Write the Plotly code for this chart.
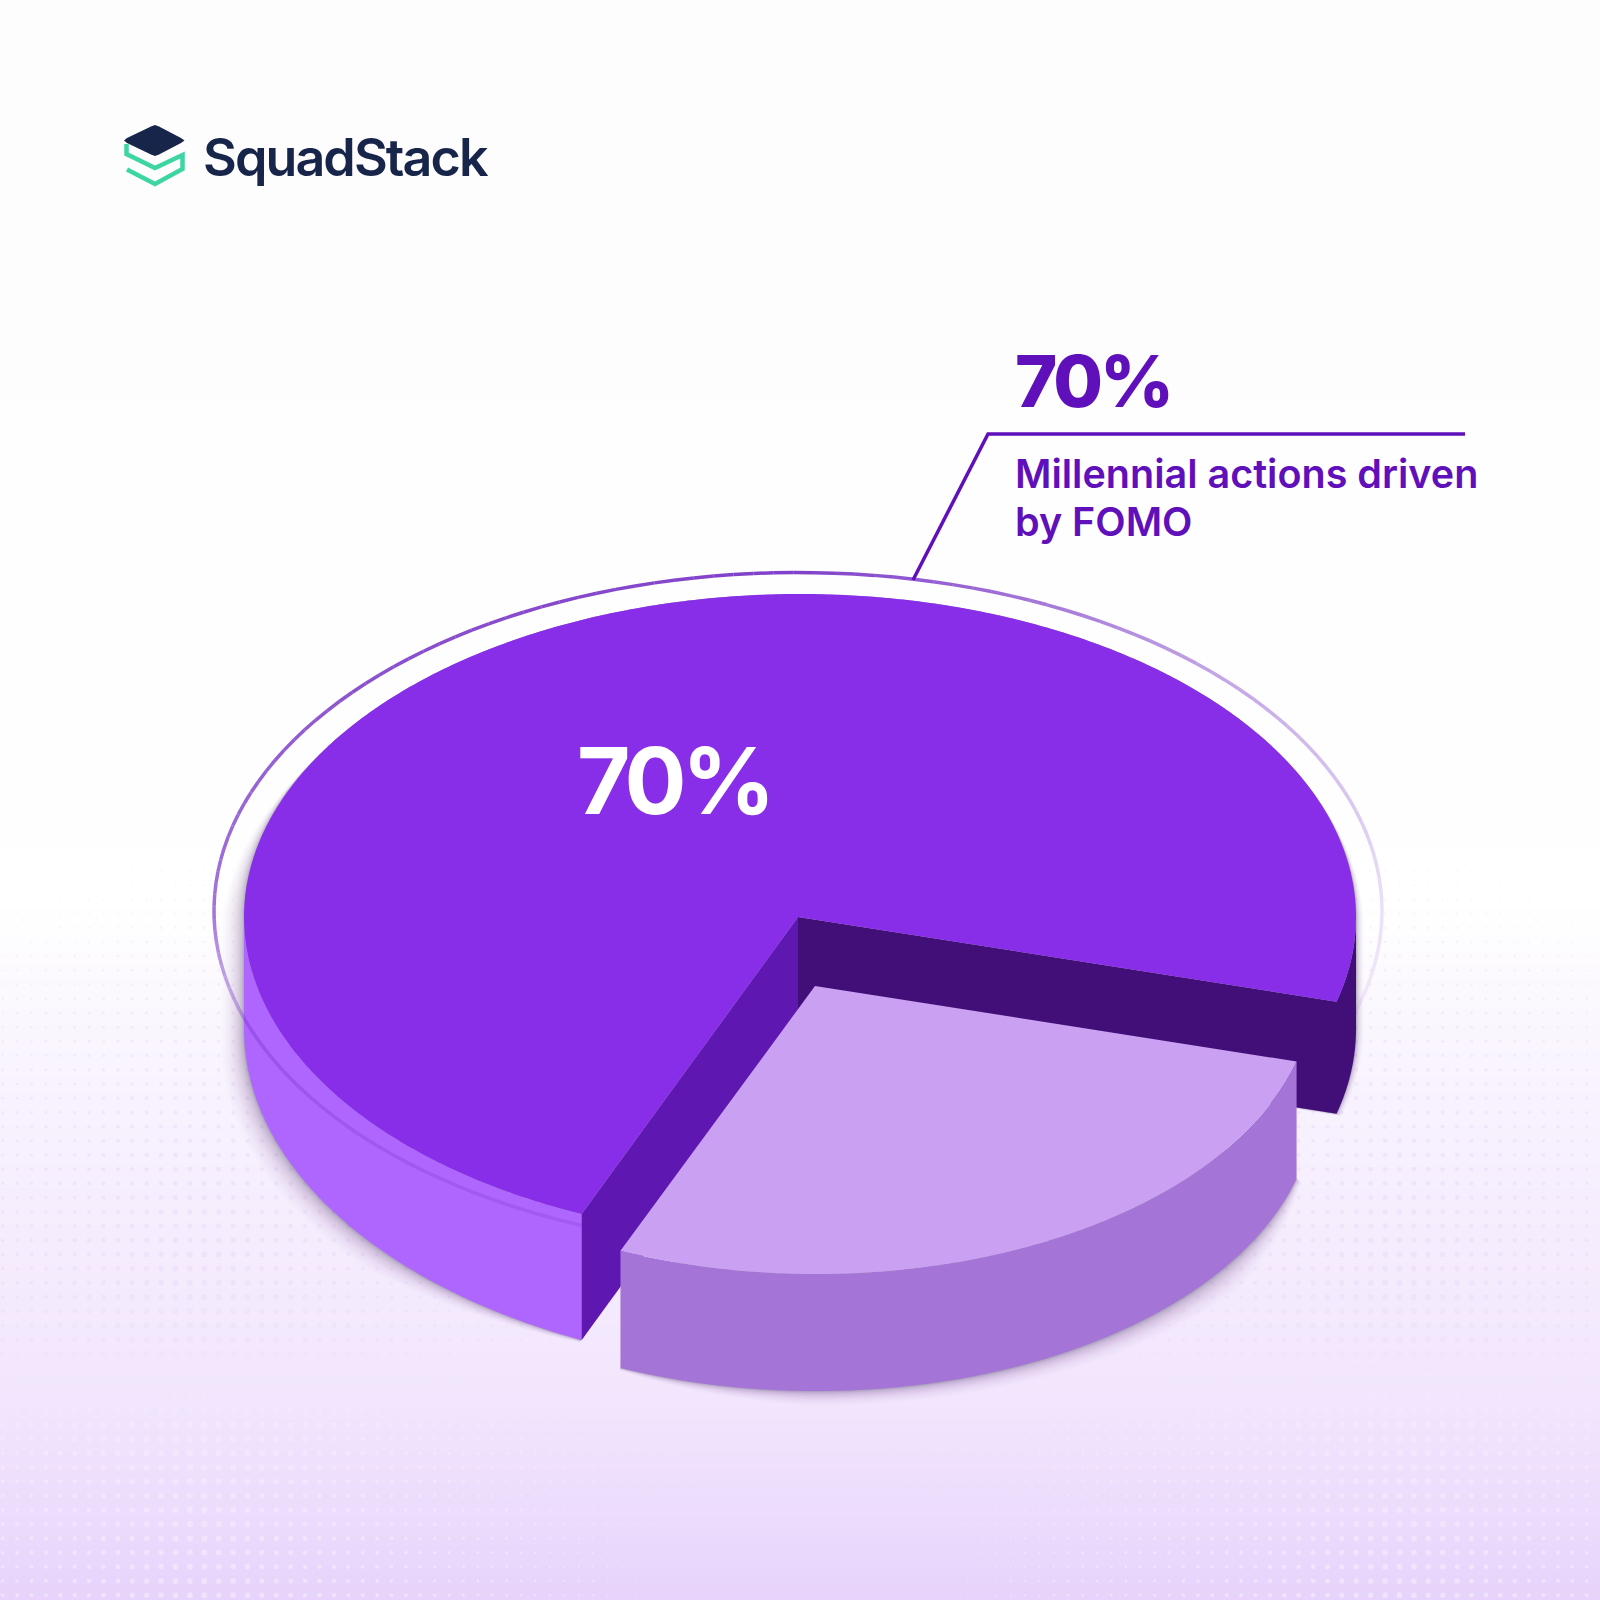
import numpy as np
import plotly.graph_objects as go

# ---- chart content ----
slice_names = ["Millennial actions driven by FOMO", "Other actions"]
slice_shares = [72.8, 27.2]          # shares as drawn in the picture
slice_label = "70%"
callout_lines = ["Millennial actions driven", "by FOMO"]
brand_name = "SquadStack"

# ---- geometry / styling ----
START = 15.2
CUT = START + 360 * slice_shares[1] / 100
MAIN = dict(cx=800, cy=917, rx=556, ry=323, ax=798, ay=917)
LIGHT = dict(cx=816, cy=986, rx=498, ry=288, depth=117, ax=815)
DEPTH_R, DEPTH_L = 112, 126
C_TOP, C_WALL, C_DARK_L, C_DARK_R = "#892EE8", "#AE66FF", "#5F17B2", "#420F78"
C_LTOP, C_LWALL = "#C9A0F2", "#A475D6"
C_TEXT = "#5F10BB"
C_NAVY, C_GREEN = "#17254A", "#3DD6A3"


def arc(e, a0, a1, n=120, dy=0.0):
    t = np.radians(np.linspace(a0, a1, n))
    return e["cx"] + e["rx"] * np.cos(t), e["cy"] + dy + e["ry"] * np.sin(t)


def depth_main(a):
    a = np.asarray(a, float)
    d = DEPTH_R + (DEPTH_L - DEPTH_R) * np.clip((180 - a) / (180 - CUT), 0, 1)
    return np.where(a < CUT - 1, DEPTH_R, d)


def main_bottom(a0, a1, n=120):
    a = np.linspace(a0, a1, n)
    t = np.radians(a)
    return MAIN["cx"] + MAIN["rx"] * np.cos(t), MAIN["cy"] + MAIN["ry"] * np.sin(t) + depth_main(a)


fig = go.Figure()


def poly(x, y, color):
    fig.add_trace(go.Scatter(x=list(x), y=list(y), mode="lines", fill="toself", fillcolor=color,
                             line=dict(width=0, simplify=False), hoverinfo="skip", showlegend=False))


# background gradient
grad_y = [0, 800, 900, 1000, 1100, 1300, 1400, 1500, 1600]
grad_c = ["#FEFDFE", "#FEFEFF", "#FFFFFF", "#FBF8FE", "#F8F2FE", "#F4EAFD", "#F2E5FD", "#EDDDFD", "#E7D3FB"]
fig.add_trace(go.Heatmap(x=[0, 1600], y=grad_y, z=[[v, v] for v in grad_y], zsmooth="best", showscale=False,
                         colorscale=[[v / 1600, c] for v, c in zip(grad_y, grad_c)], zmin=0, zmax=1600,
                         hoverinfo="skip"))

# dotted background pattern
gx, gy = np.meshgrid(np.arange(2.7, 1600, 14.4), np.arange(871, 1600, 14.2))
gx, gy = gx.ravel(), gy.ravel()
f = np.interp(np.abs(gx - 800), [0, 100, 400, 600, 800], [0.12, 0.15, 0.6, 1.0, 0.6])
g = np.interp(gy, [870, 1100, 1400, 1600], [0.28, 0.6, 1.0, 0.8])
alpha = np.interp(gy, [870, 1000, 1150, 1600], [0.35, 0.75, 1.0, 1.0])
dr = np.interp(gy, [1300, 1420], [236, 243])
dg = np.interp(gy, [1300, 1420], [224, 234])
db = np.interp(gy, [1300, 1420], [250, 252])
fig.add_trace(go.Scatter(x=gx, y=gy, mode="markers", hoverinfo="skip", showlegend=False,
                         marker=dict(size=7.2 * f * g,
                                     color=[f"rgba({r:.0f},{c:.0f},{b:.0f},{a:.2f})"
                                            for r, c, b, a in zip(dr, dg, db, alpha)],
                                     line=dict(width=0))))


# soft drop shadows
def main_shadow(e):
    a = np.concatenate([np.linspace(CUT, 180, 80), np.linspace(180.01, 359.99, 120), np.linspace(360, 360 + START, 20)])
    g = e * np.interp(a, [CUT, CUT + 25, 180, 210, 335, 360, 360 + START], [0.2, 1, 0.85, 0, 0, 0.3, 0.2])
    t = np.radians(a)
    lower = (a <= 180) | (a >= 360)
    dep = np.where(a <= 180, depth_main(a), DEPTH_R)
    x = MAIN["cx"] + (MAIN["rx"] + g) * np.cos(t)
    y = MAIN["cy"] + MAIN["ry"] * np.sin(t) + np.where(lower, dep + 0.55 * g, 0)
    return list(x) + [MAIN["ax"]], list(y) + [MAIN["ay"] + DEPTH_R + 0.55 * e * 0.2]


def light_shadow(e):
    a = np.linspace(START, CUT, 120)
    g = e * (0.18 + 0.82 * np.clip((a - START) / 22, 0, 1) * np.clip((CUT - a) / 22, 0, 1))
    t = np.radians(a)
    x = LIGHT["cx"] + (LIGHT["rx"] + g) * np.cos(t)
    y = LIGHT["cy"] + LIGHT["ry"] * np.sin(t) + LIGHT["depth"] + 0.55 * g
    return [LIGHT["ax"]] + list(x), [LIGHT["cy"]] + list(y)


layers = 27 * np.linspace(1, 0.12, 22) ** 2
for i, e in enumerate(layers):
    shade = f"rgba(45,30,80,{0.008 + 0.022 * i / (len(layers) - 1):.4f})"
    poly(*main_shadow(e), shade)
    poly(*light_shadow(e), shade)

# main slice: outer wall and the two cut faces
tx, ty = arc(MAIN, CUT, 180)
bx, by = main_bottom(180, CUT)
poly(list(tx) + list(bx), list(ty) + list(by), C_WALL)

tx, ty = arc(MAIN, START, 0, 30)
bx, by = main_bottom(0, START, 30)
poly([MAIN["ax"]] + list(tx) + list(bx) + [MAIN["ax"]],
     [MAIN["ay"]] + list(ty) + list(by) + [MAIN["ay"] + DEPTH_R], C_DARK_R)

cx0, cy0 = arc(MAIN, CUT, CUT, 1)
poly([MAIN["ax"], cx0[0], cx0[0], MAIN["ax"]],
     [MAIN["ay"], cy0[0], cy0[0] + DEPTH_L, MAIN["ay"] + DEPTH_L], C_DARK_L)

# thin ring with fading opacity
RING = dict(cx=798, cy=911, rx=584, ry=338.5)
ring_start = float(np.degrees(np.arccos((cx0[0] - RING["cx"]) / RING["rx"])))
edges = np.linspace(ring_start, 360 + 26, 140)
stops = [ring_start, 140, 165, 180, 225, 270, 315, 345, 360, 375, 386]
ops = [0.16, 0.20, 0.32, 0.62, 0.78, 0.85, 0.40, 0.22, 0.13, 0.07, 0.0]
for a0, a1 in zip(edges[:-1], edges[1:]):
    xs, ys = arc(RING, a0, a1, 4)
    op = float(np.interp((a0 + a1) / 2, stops, ops))
    fig.add_trace(go.Scatter(x=xs, y=ys, mode="lines", hoverinfo="skip", showlegend=False,
                             line=dict(color=f"rgba(106,31,192,{op:.3f})", width=3.5)))

# main slice: top
tx, ty = arc(MAIN, CUT, CUT + 360 * slice_shares[0] / 100, 600)
poly([MAIN["ax"]] + list(tx), [MAIN["ay"]] + list(ty), C_TOP)

# detached slice
tx, ty = arc(LIGHT, START, CUT, 300)
poly(list(tx) + list(tx[::-1]), list(ty) + list(ty[::-1] + LIGHT["depth"]), C_LWALL)
poly([LIGHT["ax"]] + list(tx), [LIGHT["cy"]] + list(ty), C_LTOP)

# leader line
fig.add_trace(go.Scatter(x=[913, 988, 1465], y=[580, 434, 434], mode="lines", hoverinfo="skip", showlegend=False,
                         line=dict(color=C_TEXT, width=3.5)))

# logo mark
poly([124, 127, 151, 155, 159, 181, 184.5, 181, 159, 155, 151, 127],
     [140.5, 138, 126.5, 125, 126.5, 138, 140.5, 143, 154.5, 156, 154.5, 143], C_NAVY)
fig.add_trace(go.Scatter(x=[126.5, 126.5, 155, 182.5, 182.5, 155, 127],
                         y=[144, 154, 168, 155, 169, 184, 169.5], mode="lines", hoverinfo="skip", showlegend=False,
                         line=dict(color=C_GREEN, width=4.5)))


def label(x, y, text, size, weight, color, anchor="left"):
    fig.add_annotation(x=x, y=y, text=text, showarrow=False, xanchor=anchor, yanchor="middle", xref="x", yref="y",
                       font=dict(family="Inter", size=size, weight=weight, color=color))


label(201, 157, brand_name, 52, 600, C_NAVY)
label(1013, 380.5, slice_label, 72, 800, C_TEXT)
label(1013, 474, callout_lines[0], 39.5, 600, C_TEXT)
label(1013, 522, callout_lines[1], 39.5, 600, C_TEXT)
label(575, 780, slice_label, 92, 700, "#FFFFFF")

fig.update_xaxes(range=[0, 1600], visible=False, fixedrange=True)
fig.update_yaxes(range=[1600, 0], visible=False, fixedrange=True)
fig.update_layout(width=1600, height=1600, margin=dict(l=0, r=0, t=0, b=0), paper_bgcolor="#FFFFFF",
                  plot_bgcolor="#FFFFFF", showlegend=False)
post = """
document.body.style.margin='0';document.documentElement.style.overflow='hidden';
var sp={'52px':-1.9,'72px':-3,'92px':-4.5};
document.querySelectorAll('.annotation-text').forEach(function(t){
  var s=sp[t.style.fontSize]; if(s===undefined) return;
  var b0=t.getBBox().x; t.style.letterSpacing=s+'px'; var b1=t.getBBox().x;
  t.setAttribute('x', parseFloat(t.getAttribute('x'))+(b0-b1));
});
"""
fig.write_html("out.html", post_script=post, config={"displayModeBar": False})
